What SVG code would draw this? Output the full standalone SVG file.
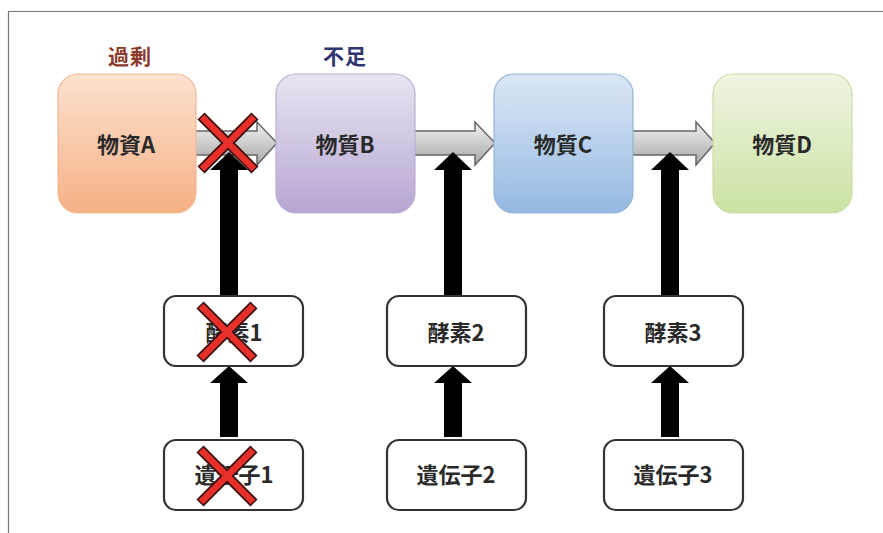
<svg xmlns="http://www.w3.org/2000/svg" width="883" height="533" viewBox="0 0 883 533">
<defs>
<linearGradient id="gA" x1="0" y1="0" x2="0" y2="1"><stop offset="0" stop-color="#fce2d0"/><stop offset="1" stop-color="#f6b085"/></linearGradient>
<linearGradient id="gB" x1="0" y1="0" x2="0" y2="1"><stop offset="0" stop-color="#e9e4f1"/><stop offset="1" stop-color="#b6a6d2"/></linearGradient>
<linearGradient id="gC" x1="0" y1="0" x2="0" y2="1"><stop offset="0" stop-color="#dbe7f5"/><stop offset="1" stop-color="#95b9e2"/></linearGradient>
<linearGradient id="gD" x1="0" y1="0" x2="0" y2="1"><stop offset="0" stop-color="#eef5e2"/><stop offset="1" stop-color="#cbe2a2"/></linearGradient>
<linearGradient id="gG" x1="0" y1="0" x2="0" y2="1"><stop offset="0" stop-color="#f0f0f0"/><stop offset="1" stop-color="#a8a8a8"/></linearGradient>
<g id="xmark">
<path d="M-27,-27 L27,27 M27,-27 L-27,27" stroke="#3a1010" stroke-width="10" stroke-linecap="butt"/>
<path d="M-26,-26 L26,26 M26,-26 L-26,26" stroke="#e8302a" stroke-width="6.5"/>
</g>
</defs>
<style>
.t{font-family:"Noto Sans CJK JP","Liberation Sans",sans-serif;font-weight:bold;font-size:22px;fill:#2a2a2a;text-anchor:middle}
.lbl{font-family:"Noto Sans CJK JP",sans-serif;font-weight:bold;font-size:21px;text-anchor:middle;letter-spacing:1px}
.sub{stroke-width:1.2}
.box{fill:#fff;stroke:#333;stroke-width:2.2}
.garrow{fill:url(#gG);stroke:#666;stroke-width:1.5}
.barrow{fill:#000}
</style>
<rect x="0" y="0" width="883" height="533" fill="#fff"/>
<path d="M8.5,533 V11.5 H883" fill="none" stroke="#777" stroke-width="1.2"/>

<text class="lbl" x="130" y="64" fill="#8b3a2c">過剰</text>
<text class="lbl" x="345" y="64" fill="#2f3570">不足</text>

<g id="connectors">
<polygon class="garrow" points="194,131 257,131 257,122 277,143 257,165 257,155 194,155"/>
<polygon class="garrow" points="414,131 475,131 475,122 495,143 475,165 475,155 414,155"/>
<polygon class="garrow" points="632,131 696,131 696,122 715,143 696,165 696,155 632,155"/>
<polygon class="barrow" points="220,295 220,170 210,170 229,152 248,170 238,170 238,295"/>
<polygon class="barrow" points="444,295 444,170 434,170 453,152 472,170 462,170 462,295"/>
<polygon class="barrow" points="661,295 661,170 651,170 670,152 689,170 679,170 679,295"/>
<polygon class="barrow" points="220,437 220,383 210,383 229,366 248,383 238,383 238,437"/>
<polygon class="barrow" points="444,437 444,383 434,383 453,366 472,383 462,383 462,437"/>
<polygon class="barrow" points="661,437 661,383 651,383 670,366 689,383 679,383 679,437"/>
</g>

<g id="substanceA"><rect class="sub" x="58" y="74" width="138" height="139" rx="20" fill="url(#gA)" stroke="#f1b893"/><text class="t" x="126" y="153">物資A</text></g>
<g id="substanceB"><rect class="sub" x="276" y="74" width="139" height="139" rx="20" fill="url(#gB)" stroke="#b9aed3"/><text class="t" x="345" y="153">物質B</text></g>
<g id="substanceC"><rect class="sub" x="494" y="74" width="139" height="139" rx="20" fill="url(#gC)" stroke="#95b4d8"/><text class="t" x="563" y="153">物質C</text></g>
<g id="substanceD"><rect class="sub" x="713" y="74" width="139" height="139" rx="20" fill="url(#gD)" stroke="#c9dca8"/><text class="t" x="782" y="153">物質D</text></g>

<g id="enzyme1"><rect class="box" x="164" y="296" width="139" height="70" rx="12"/><text class="t" x="234" y="341">酵素1</text></g>
<g id="enzyme2"><rect class="box" x="387" y="296" width="139" height="70" rx="12"/><text class="t" x="456" y="341">酵素2</text></g>
<g id="enzyme3"><rect class="box" x="604" y="296" width="139" height="70" rx="12"/><text class="t" x="673" y="341">酵素3</text></g>
<g id="gene1"><rect class="box" x="164" y="440" width="139" height="70" rx="12"/><text class="t" x="234" y="483">遺伝子1</text></g>
<g id="gene2"><rect class="box" x="387" y="440" width="139" height="70" rx="12"/><text class="t" x="456" y="483">遺伝子2</text></g>
<g id="gene3"><rect class="box" x="604" y="440" width="139" height="70" rx="12"/><text class="t" x="673" y="483">遺伝子3</text></g>

<g id="crosses">
<use href="#xmark" x="228" y="143"/>
<use href="#xmark" x="227" y="332"/>
<use href="#xmark" x="227" y="476"/>
</g>
</svg>
